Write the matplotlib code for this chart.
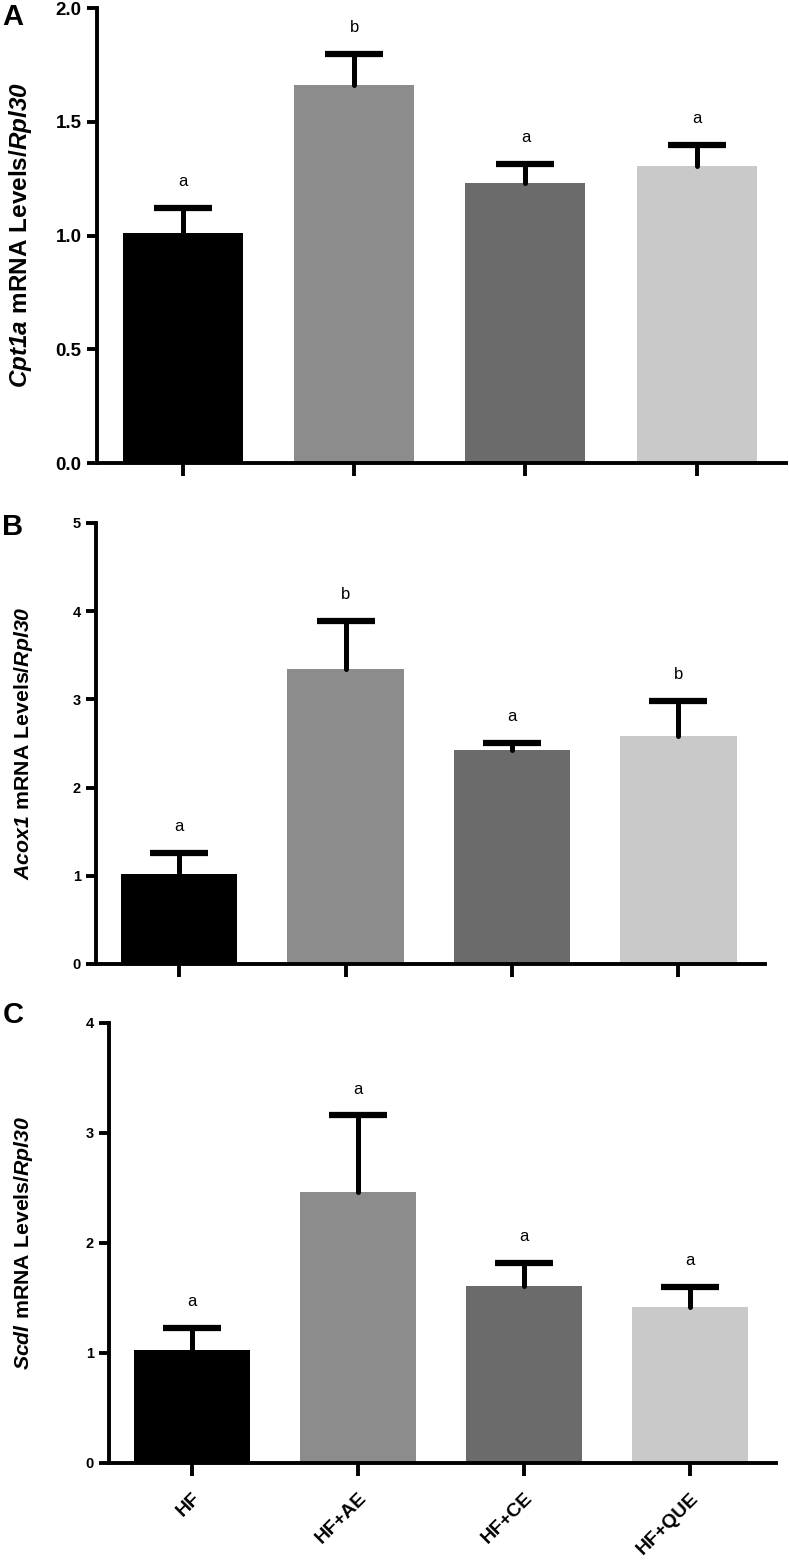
import matplotlib
matplotlib.use("Agg")
import matplotlib.pyplot as plt
import numpy as np

plt.rcParams["font.family"] = ["Liberation Sans", "DejaVu Sans"]
plt.rcParams["mathtext.fontset"] = "custom"
plt.rcParams["mathtext.it"] = "Liberation Sans:italic:bold"
plt.rcParams["mathtext.rm"] = "Liberation Sans:italic:bold"
plt.rcParams["mathtext.bf"] = "Liberation Sans:bold"

# data
groups = ["HF", "HF+AE", "HF+CE", "HF+QUE"]
bar_colors = ["#000000", "#8c8c8c", "#6b6b6b", "#c9c9c9"]

cpt1a_mean = [1.01, 1.66, 1.23, 1.305]
cpt1a_sem = [0.11, 0.14, 0.085, 0.095]
cpt1a_sig = ["a", "b", "a", "a"]

acox1_mean = [1.02, 3.34, 2.43, 2.585]
acox1_sem = [0.24, 0.55, 0.08, 0.40]
acox1_sig = ["a", "b", "a", "b"]

scd1_mean = [1.03, 2.46, 1.61, 1.415]
scd1_sem = [0.20, 0.70, 0.21, 0.185]
scd1_sig = ["a", "a", "a", "a"]

W, H = 789, 1564
fig = plt.figure(figsize=(W / 100, H / 100), dpi=100)


def px_axes(left, right, top, bottom):
    return fig.add_axes([left / W, 1 - bottom / H, (right - left) / W, (bottom - top) / H])


def gene_label(gene):
    return r"$\mathit{" + gene + r"}\ \mathbf{mRNA\ Levels/}\mathit{Rpl30}$"


panels = [
    # (axes box px, means, sems, letters, ymax, yticks, decimals, gene, panel letter, letter y,
    #  tick size, label size, label x)
    ((97, 786, 8, 463), cpt1a_mean, cpt1a_sem, cpt1a_sig, 2.0, np.arange(0, 2.01, 0.5), 1,
     "Cpt1a", "A", 17, 13.5, 17.5, 21),
    ((96, 765, 523, 964), acox1_mean, acox1_sem, acox1_sig, 5, np.arange(0, 6, 1), 0,
     "Acox1", "B", 527, 10.5, 15.3, 24),
    ((109, 776, 1023, 1463), scd1_mean, scd1_sem, scd1_sig, 4, np.arange(0, 5, 1), 0,
     "Scdl", "C", 1015, 10.5, 15.3, 24),
]

x = np.arange(len(groups))

for i, (box, mean, sem, sig, ymax, yt, dec, gene, letter, ly, tsize, lsize, lx) in enumerate(panels):
    ax = px_axes(*box)
    ax.bar(x, mean, width=0.7, color=bar_colors, zorder=2)
    eb = ax.errorbar(x, mean, yerr=[np.zeros(len(sem)), sem], fmt="none", ecolor="black",
                     elinewidth=3.6, capsize=21, capthick=4.5, zorder=3)
    eb[1][0].set_visible(False)  # only the upper cap
    eb[2][0].set_capstyle("round")
    for xi, m, s, t in zip(x, mean, sem, sig):
        ax.annotate(t, (xi, m + s), xytext=(0, 19), textcoords="offset points",
                    ha="center", va="center", fontsize=12)

    ax.set_xlim(-0.5, 3.52)
    ax.set_ylim(0, ymax)
    ax.set_yticks(yt)
    ax.set_yticklabels([f"{v:.{dec}f}" for v in yt], fontweight="bold", fontsize=tsize)

    for side in ["top", "right"]:
        ax.spines[side].set_visible(False)
    for side in ["left", "bottom"]:
        ax.spines[side].set_linewidth(2.8)
        ax.spines[side].set_capstyle("projecting")
    ax.tick_params(axis="y", width=2.8, length=7, pad=4)
    ax.tick_params(axis="x", width=2.8, length=9)

    ax.set_xticks(x)
    if i == 2:
        ax.set_xticklabels(groups, rotation=45, ha="right", rotation_mode="anchor",
                           fontweight="bold", fontsize=14)
        ax.tick_params(axis="x", pad=10)
    else:
        ax.set_xticklabels([])

    ax.set_ylabel(gene_label(gene), fontsize=lsize, va="center")
    ax.yaxis.set_label_coords(lx / W, 1 - (box[2] + box[3]) / 2 / H, transform=fig.transFigure)

    fig.text(13 / W, 1 - ly / H, letter, fontsize=21, fontweight="bold", ha="center", va="center")

fig.savefig("out.png", dpi=100)
